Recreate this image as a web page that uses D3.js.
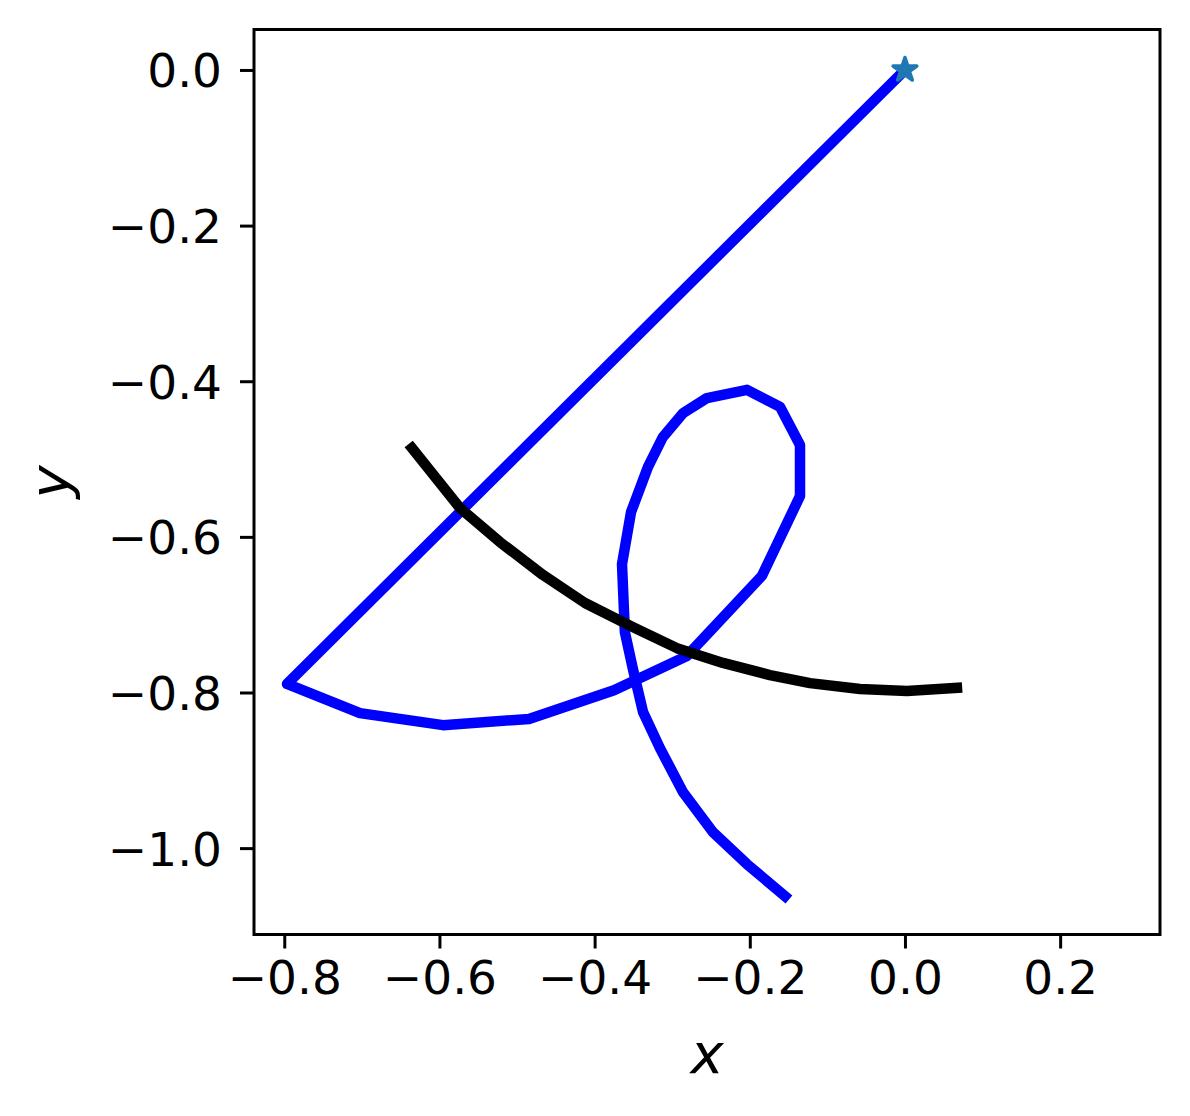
<!DOCTYPE html>
<html>
<head>
<meta charset="utf-8">
<script src="https://cdn.jsdelivr.net/npm/d3@7"></script>
<style>
  body { margin: 0; background: #fff; }
  text { font-family: "DejaVu Sans", sans-serif; }
</style>
</head>
<body>
<svg id="chart" width="1190" height="1116"></svg>
<script>
// ---- data ----
const blueX = [0, -0.7965, -0.7024, -0.5954, -0.4846, -0.375, -0.281, -0.1843, -0.1353, -0.1353, -0.161, -0.2036, -0.2552, -0.286, -0.312, -0.3312, -0.353, -0.3647, -0.361, -0.3506, -0.3376, -0.3158, -0.2861, -0.2475, -0.2036, -0.1547];
const blueY = [0, -0.789, -0.8265, -0.842, -0.834, -0.797, -0.753, -0.650, -0.5476, -0.482, -0.433, -0.411, -0.4216, -0.441, -0.4717, -0.510, -0.568, -0.635, -0.7224, -0.770, -0.825, -0.8715, -0.928, -0.9794, -1.0206, -1.0617];
const blackX = [-0.6354, -0.6045, -0.5735, -0.522, -0.4666, -0.4124, -0.3506, -0.2939, -0.2346, -0.174, -0.1224, -0.058, 0.0026, 0.067];
const blackY = [-0.4859, -0.5244, -0.563, -0.6067, -0.649, -0.685, -0.716, -0.743, -0.762, -0.7776, -0.788, -0.7956, -0.7982, -0.794];
const startPoint = [[0, 0]];
const xTicks = [-0.8, -0.6, -0.4, -0.2, 0.0, 0.2];
const yTicks = [0.0, -0.2, -0.4, -0.6, -0.8, -1.0];

// ---- layout ----
const L = 254, T = 29.5, W = 906, H = 905;
const svg = d3.select("#chart");
const x = d3.scaleLinear().domain([-0.839, 0.3287]).range([L, L + W]);
const y = d3.scaleLinear().domain([-1.111, 0.052]).range([T + H, T]);
const fmt = d3.format(".1f");

const g = svg.append("g");
const line = d3.line().x(d => x(d[0])).y(d => y(d[1]));

const bluePts = blueX.map((v, i) => [v, blueY[i]]);
const blackPts = blackX.map((v, i) => [v, blackY[i]]);

svg.append("clipPath").attr("id", "clip").append("rect")
  .attr("x", L).attr("y", T).attr("width", W).attr("height", H);

const plot = g.append("g").attr("clip-path", "url(#clip)");
plot.append("path").datum(bluePts).attr("d", line)
  .attr("fill", "none").attr("stroke", "#0000ff").attr("stroke-width", 10.5)
  .attr("stroke-linejoin", "round").attr("stroke-linecap", "square");
plot.append("path").datum(blackPts).attr("d", line)
  .attr("fill", "none").attr("stroke", "#000000").attr("stroke-width", 10.5)
  .attr("stroke-linejoin", "round").attr("stroke-linecap", "square");
plot.selectAll(".star").data(startPoint).enter().append("path")
  .attr("d", d3.symbol().type(d3.symbolStar).size(175))
  .attr("transform", d => `translate(${x(d[0])},${y(d[1])})`)
  .attr("fill", "#1f77b4").attr("stroke", "#1f77b4").attr("stroke-width", 3.5)
  .attr("stroke-linejoin", "round");

// ---- axes ----
const xAxis = d3.axisBottom(x).tickValues(xTicks).tickFormat(fmt).tickSizeOuter(0).tickSize(14).tickPadding(12);
const yAxis = d3.axisLeft(y).tickValues(yTicks).tickFormat(fmt).tickSizeOuter(0).tickSize(14).tickPadding(18);

const gx = g.append("g").attr("transform", `translate(0,${T + H})`).call(xAxis);
const gy = g.append("g").attr("transform", `translate(${L},0)`).call(yAxis);
[gx, gy].forEach(a => {
  a.select(".domain").remove();
  a.selectAll(".tick line").attr("stroke", "#000").attr("stroke-width", 3);
  a.selectAll(".tick text").attr("fill", "#000").style("font-size", "47px")
    .style("font-family", "'DejaVu Sans', sans-serif");
});
gy.selectAll(".tick text").attr("dy", "0.36em");

// frame
g.append("rect").attr("x", L).attr("y", T).attr("width", W).attr("height", H)
  .attr("fill", "none").attr("stroke", "#000").attr("stroke-width", 3);

// axis labels
g.append("text").attr("x", L + W / 2).attr("y", 1073).attr("text-anchor", "middle")
  .style("font-size", "56px").style("font-style", "italic").text("x");
g.append("text").attr("transform", `translate(69,${T + H / 2}) rotate(-90)`)
  .attr("text-anchor", "middle").style("font-size", "56px").style("font-style", "italic").text("y");
</script>
</body>
</html>
